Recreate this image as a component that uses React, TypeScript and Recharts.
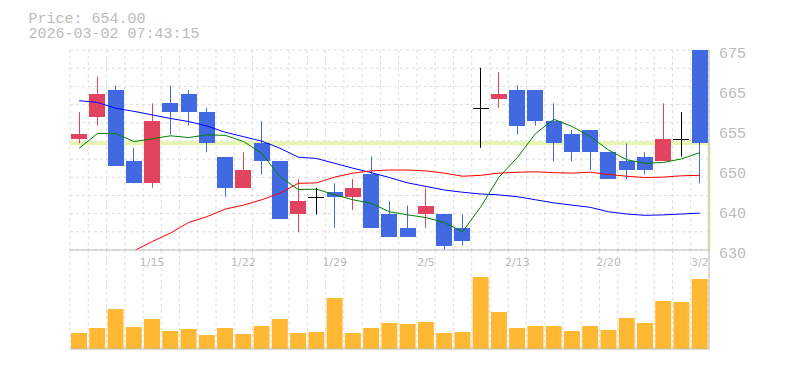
import React from 'react';
import { ComposedChart, Bar, Line, XAxis, YAxis, CartesianGrid, ReferenceLine } from 'recharts';

const dates = ['1/8','1/9','1/13','1/14','1/15','1/16','1/19','1/20','1/21','1/22','1/23','1/26','1/27','1/28','1/29','1/30','2/2','2/3','2/4','2/5','2/6','2/9','2/10','2/12','2/13','2/16','2/17','2/18','2/19','2/20','2/24','2/25','2/26','2/27','3/2'];
const opens = [655, 660, 666, 650, 645, 663, 665, 661, 651, 644, 654, 650, 638, 642, 643, 642, 647, 638, 635, 638, 638, 635, 662, 664, 666, 666, 659, 656, 657, 652, 650, 651, 650, 655, 675];
const highs = [661, 669, 667, 653, 663, 667, 666, 662, 651, 652, 659, 650, 646, 644, 645, 646, 651, 641, 640, 644, 638, 638, 671, 670, 667, 666, 663, 657, 657, 652, 654, 652, 663, 661, 675];
const lows = [654, 658, 649, 645, 644, 656, 658, 652, 642, 644, 647, 637, 634, 638, 635, 639, 635, 633, 633, 635, 630, 631, 653, 662, 656, 658, 650, 650, 648, 646, 646, 647, 650, 651, 645];
const closes = [656, 665, 649, 645, 659, 661, 661, 654, 644, 648, 650, 637, 641, 642, 642, 644, 635, 633, 633, 640, 631, 632, 662, 665, 658, 659, 654, 652, 652, 646, 648, 648, 655, 655, 654];
const ma5 = [652.9, 656.2, 656.2, 654.4, 655.0, 655.7, 655.3, 655.9, 655.8, 654.4, 651.8, 646.5, 643.6, 643.7, 642.4, 641.3, 640.5, 638.6, 637.9, 637.3, 636.2, 634.1, 639.7, 646.4, 650.8, 656.2, 659.4, 657.8, 655.5, 652.5, 650.3, 649.5, 649.7, 650.5, 651.9];
const ma25 = [null, null, null, 629.8, 631.9, 633.8, 636.2, 637.5, 639.2, 640.1, 641.3, 642.8, 645.0, 645.1, 646.4, 647.3, 647.8, 648.0, 648.0, 647.8, 647.3, 646.6, 646.8, 647.3, 647.5, 647.6, 647.4, 647.3, 647.5, 647.0, 646.6, 646.3, 646.4, 646.7, 646.8];
const ma75 = [663.6, 663.2, 661.9, 661.2, 660.4, 659.6, 658.9, 657.9, 656.5, 655.5, 654.5, 652.9, 650.9, 650.6, 649.5, 648.4, 647.4, 646.3, 645.1, 644.3, 643.5, 643.0, 642.6, 642.4, 642.0, 641.3, 640.6, 640.1, 639.6, 638.6, 638.1, 637.8, 637.9, 638.1, 638.3];
const volumes = [16000, 21000, 40000, 22000, 30000, 18000, 20000, 14000, 21000, 15000, 23000, 30000, 16000, 17000, 51000, 16000, 21000, 26000, 25000, 27000, 16000, 17000, 72000, 37000, 21000, 23000, 23000, 18000, 23000, 19000, 31000, 26000, 48000, 47000, 70000];

const xTickLabels = ['1/15', '1/22', '1/29', '2/5', '2/13', '2/20', '3/2'];
const priceTicks = [630, 639, 648, 657, 666, 675];
const priceTickLabels = ['630', '640', '650', '655', '665', '675'];
const priceDomain = [630, 675];
const volumeDomain = [0, 99000];
const gridRows = 11;
const timestamp = '2026-03-02 07:43:15';

const RED = '#e2435f';
const BLUE = '#4169e1';
const VOL = '#ffb833';
const HIGHLIGHT = '#e6f5b0';
const GRID = '#dddddd';
const AXIS = '#bbbbbb';
const TEXT = '#bbbbbb';

const data = dates.map((d, i) => ({
  date: d,
  open: opens[i],
  high: highs[i],
  low: lows[i],
  close: closes[i],
  range: [lows[i], highs[i]],
  ma5: ma5[i],
  ma25: ma25[i],
  ma75: ma75[i],
  volume: volumes[i],
}));

const lastIdx = data.length - 1;
const lastClose = closes[lastIdx];
const lastDate = dates[lastIdx];

const Candle = (props: any) => {
  const { x, y, width, height, payload } = props;
  if (!payload || height == null) return null;
  const { open, close, high, low } = payload;
  const color = close > open ? RED : close < open ? BLUE : '#000000';
  const k = high === low ? 0 : height / (high - low);
  const cx = Math.floor(x + width / 2) + 0.5;
  const bx = Math.round(x);
  const bw = Math.round(width);
  const top = Math.round(y + (high - Math.max(open, close)) * k);
  const bot = Math.round(y + (high - Math.min(open, close)) * k);
  return (
    <g>
      <line x1={cx} x2={cx} y1={y} y2={y + height} stroke={color} strokeWidth={1} />
      {open === close ? (
        <line x1={bx} x2={bx + bw} y1={top + 0.5} y2={top + 0.5} stroke={color} strokeWidth={1} />
      ) : (
        <rect x={bx} y={top} width={bw} height={Math.max(bot - top, 1)} fill={color} />
      )}
    </g>
  );
};

const vGen = (props: any) => {
  const off = props && props.offset ? props.offset : { left: 70, width: 639 };
  const n = dates.length;
  return Array.from({ length: n + 1 }, (_, i) => off.left + (i * off.width) / n);
};
const hGen = (props: any) => {
  const off = props && props.offset ? props.offset : { top: 50, height: 200 };
  return Array.from({ length: gridRows + 1 }, (_, i) => off.top + (i * off.height) / gridRows);
};

const layer: React.CSSProperties = { position: 'absolute', left: 0, top: 0 };
const priceMargin = { top: 50, right: 0, left: 70, bottom: 100 };

export default function App() {
  return (
    <div style={{ position: 'absolute', left: 0, top: 0, width: 785, height: 370, background: '#ffffff' }}>
      <svg width={785} height={50} style={layer}>
        <text x={28.5} y={23.3} fontFamily="Liberation Mono" fontSize={15} fill={TEXT}>{`Price: ${lastClose.toFixed(2)}`}</text>
        <text x={28.5} y={37.7} fontFamily="Liberation Mono" fontSize={15} fill={TEXT}>{timestamp}</text>
      </svg>
      {/* volume panel */}
      <div style={layer}>
        <ComposedChart width={785} height={370} data={data} margin={{ top: 250, right: 0, left: 70, bottom: 0 }} barSize={16}>
          <CartesianGrid horizontal={false} stroke={GRID} strokeDasharray="3 3" verticalCoordinatesGenerator={vGen} />
          <XAxis dataKey="date" height={21} tick={false} tickLine={false} axisLine={{ stroke: AXIS }} />
          <YAxis orientation="right" width={76} domain={volumeDomain} tick={false} tickLine={false} axisLine={{ stroke: AXIS }} />
          <Bar dataKey="volume" fill={VOL} isAnimationActive={false} />
        </ComposedChart>
      </div>
      {/* price panel background: grid and last-price highlight */}
      <div style={layer}>
        <ComposedChart width={785} height={370} data={data} margin={priceMargin}>
          <CartesianGrid stroke={GRID} strokeDasharray="3 3" verticalCoordinatesGenerator={vGen} horizontalCoordinatesGenerator={hGen} />
          <XAxis dataKey="date" height={20} tick={false} tickLine={false} axisLine={false} />
          <YAxis orientation="right" width={76} domain={priceDomain} allowDataOverflow tick={false} tickLine={false} axisLine={false} />
          <ReferenceLine y={lastClose} stroke={HIGHLIGHT} strokeWidth={4} />
          <ReferenceLine segment={[{ x: lastDate, y: lastClose }, { x: lastDate, y: priceDomain[0] }]} stroke={HIGHLIGHT} strokeWidth={3} />
        </ComposedChart>
      </div>
      {/* price panel: axes, moving averages, candles */}
      <div style={layer}>
        <ComposedChart width={785} height={370} data={data} margin={priceMargin} barSize={16}>
          <XAxis
            dataKey="date"
            height={20}
            ticks={xTickLabels}
            interval={0}
            tickLine={false}
            axisLine={{ stroke: AXIS }}
            tick={{ fill: TEXT, fontSize: 11, fontFamily: 'DejaVu Sans' }}
          />
          <YAxis
            orientation="right"
            width={76}
            domain={priceDomain}
            ticks={priceTicks}
            interval={0}
            allowDataOverflow
            tickLine={false}
            tickMargin={4}
            axisLine={{ stroke: AXIS }}
            tickFormatter={(v: number) => priceTickLabels[priceTicks.indexOf(v)]}
            tick={{ fill: TEXT, fontSize: 15, fontFamily: 'Liberation Mono', dy: 3 }}
          />
          <Line dataKey="ma75" stroke="#0000ff" strokeWidth={1} dot={false} isAnimationActive={false} />
          <Line dataKey="ma25" stroke="#ff0000" strokeWidth={1} dot={false} isAnimationActive={false} />
          <Line dataKey="ma5" stroke="#008000" strokeWidth={1} dot={false} isAnimationActive={false} />
          <Bar dataKey="range" shape={<Candle />} isAnimationActive={false} />
        </ComposedChart>
      </div>
    </div>
  );
}
